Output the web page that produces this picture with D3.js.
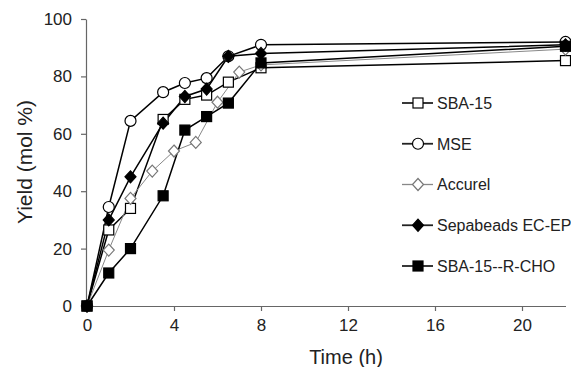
<!DOCTYPE html>
<html><head><meta charset="utf-8">
<script src="https://cdn.jsdelivr.net/npm/d3@7"></script>
<style>body{margin:0;background:#fff}svg{display:block}text{font-family:"Liberation Sans",Arial,sans-serif;fill:#222}</style>
</head><body><svg id="c" width="571" height="367"></svg>
<script>
const timesMain = [0, 1, 2, 3.5, 4.5, 5.5, 6.5, 8, 22];
const timesAccurel = [0, 1, 2, 3, 4, 5, 6, 7, 8, 22];
const sba15 = [0, 26.5, 34, 65, 72, 73.5, 78, 83, 85.5];
const mse = [0, 34.5, 64.5, 74.5, 77.7, 79.4, 87, 91, 92];
const accurel = [0, 19.5, 37.5, 47, 54, 57, 71, 81.5, 84, 89.5];
const sepabeads = [0, 30, 45, 63.7, 73, 75.6, 87, 88, 91];
const rcho = [0, 11.5, 20, 38.4, 61.3, 66, 70.7, 84.7, 90.5];
const xTicks = [0, 4, 8, 12, 16, 20];
const yTicks = [0, 20, 40, 60, 80, 100];
const seriesNames = ["SBA-15", "MSE", "Accurel", "Sepabeads EC-EP", "SBA-15--R-CHO"];

const series = [
  {name: seriesNames[0], t: timesMain, v: sba15, shape: "square", fill: "#fff", stroke: "#000", line: "#000", lw: 1.5},
  {name: seriesNames[1], t: timesMain, v: mse, shape: "circle", fill: "#fff", stroke: "#000", line: "#000", lw: 1.5},
  {name: seriesNames[2], t: timesAccurel, v: accurel, shape: "diamond", fill: "#fff", stroke: "#777", line: "#888", lw: 1},
  {name: seriesNames[3], t: timesMain, v: sepabeads, shape: "diamond", fill: "#000", stroke: "#000", line: "#000", lw: 1.5},
  {name: seriesNames[4], t: timesMain, v: rcho, shape: "square", fill: "#000", stroke: "#000", line: "#000", lw: 1.5}
];

const svg = d3.select("#c");
const x = d3.scaleLinear().domain([0, 22]).range([87, 565.5]);
const y = d3.scaleLinear().domain([0, 100]).range([306, 19]);

const xAxis = svg.append("g").attr("transform", `translate(0,${y(0)})`)
  .call(d3.axisBottom(x).tickValues(xTicks).tickSize(5).tickSizeOuter(0).tickPadding(8));
const yAxis = svg.append("g").attr("transform", `translate(${x(0)-1},0)`)
  .call(d3.axisLeft(y).tickValues(yTicks).tickSize(5).tickSizeOuter(0).tickPadding(9));
[xAxis, yAxis].forEach(a => {
  a.selectAll("path,line").attr("stroke", "#666").attr("stroke-width", 1.2);
  a.selectAll("text").style("font-size", "17px").attr("fill", "#222");
});

svg.append("text").attr("x", 346).attr("y", 364).attr("text-anchor", "middle")
  .style("font-size", "20px").text("Time (h)");
svg.append("text").attr("transform", "translate(32,162) rotate(-90)").attr("text-anchor", "middle")
  .style("font-size", "21px").text("Yield (mol %)");

function marker(g, shape, cx, cy) {
  if (shape === "square") {
    g.append("rect").attr("x", cx - 5).attr("y", cy - 5).attr("width", 10).attr("height", 10);
  } else if (shape === "circle") {
    g.append("circle").attr("cx", cx).attr("cy", cy).attr("r", 5.5);
  } else {
    g.append("path").attr("d", `M${cx},${cy-6}L${cx+5.5},${cy}L${cx},${cy+6}L${cx-5.5},${cy}Z`);
  }
}

const line = d3.line();
series.forEach(s => {
  const pts = s.t.map((t, i) => [x(t), y(s.v[i])]);
  svg.append("path").attr("d", line(pts)).attr("fill", "none")
    .attr("stroke", s.line).attr("stroke-width", s.lw);
});
series.forEach(s => {
  const g = svg.append("g").attr("fill", s.fill).attr("stroke", s.stroke).attr("stroke-width", 1.2);
  s.t.forEach((t, i) => marker(g, s.shape, x(t), y(s.v[i])));
});

// legend
const legY = d3.scalePoint().domain(seriesNames).range([103, 266]);
series.forEach(s => {
  const ly = legY(s.name);
  svg.append("line").attr("x1", 402).attr("x2", 433).attr("y1", ly).attr("y2", ly)
    .attr("stroke", s.line === "#000" ? "#222" : s.line).attr("stroke-width", s.lw + 0.3);
  const g = svg.append("g").attr("fill", s.fill).attr("stroke", s.stroke).attr("stroke-width", 1.2);
  marker(g, s.shape, 418, ly);
  svg.append("text").attr("x", 437).attr("y", ly).attr("dy", "0.36em")
    .style("font-size", "16px").text(s.name);
});
</script></body></html>
